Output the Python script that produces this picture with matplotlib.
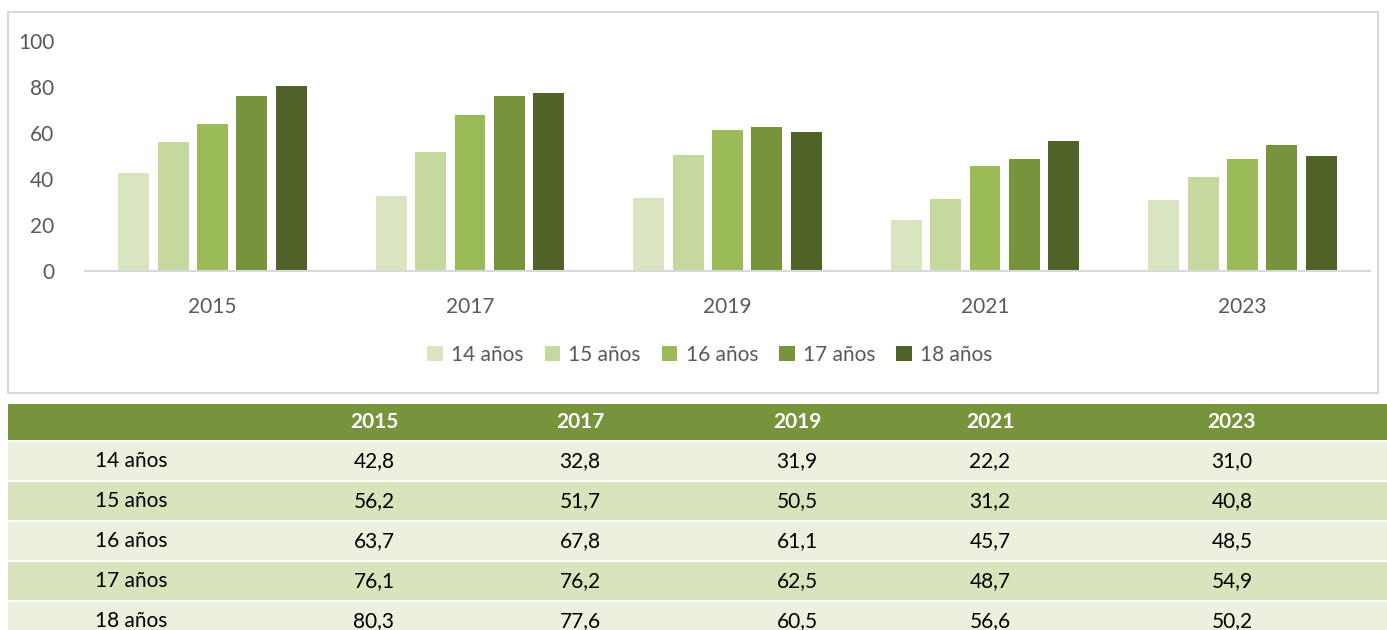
import numpy as np
import matplotlib.pyplot as plt
from matplotlib.patches import Rectangle

plt.rcParams['font.family'] = ['Lato', 'DejaVu Sans']

years = ['2015', '2017', '2019', '2021', '2023']
ages = ['14 años', '15 años', '16 años', '17 años', '18 años']
v14 = [42.8, 32.8, 31.9, 22.2, 31.0]
v15 = [56.2, 51.7, 50.5, 31.2, 40.8]
v16 = [63.7, 67.8, 61.1, 45.7, 48.5]
v17 = [76.1, 76.2, 62.5, 48.7, 54.9]
v18 = [80.3, 77.6, 60.5, 56.6, 50.2]
series = [v14, v15, v16, v17, v18]
colors = ['#D9E5C0', '#C5D89D', '#9BBB59', '#77933C', '#4F6228']

W, H = 1387, 630
fig = plt.figure(figsize=(W / 100, H / 100), dpi=100)

# background layer in pixel coords
bg = fig.add_axes([0, 0, 1, 1])
bg.set_xlim(0, W)
bg.set_ylim(H, 0)
bg.axis('off')
bg.add_patch(Rectangle((8, 12), 1370, 381, fill=False, ec='#D9D9D9', lw=1.5))

# chart
def fx(px):
    return px / W

def fy(py):
    return 1 - py / H

ax = fig.add_axes([fx(85), fy(271), fx(1370 - 85), (271 - 41) / H])
x = np.arange(len(years))
step = 0.153
width = 0.12
for i, (vals, c) in enumerate(zip(series, colors)):
    ax.bar(x + (i - 2) * step, vals, width, color=c, label=ages[i], zorder=2)
ax.set_xlim(-0.495, 4.495)
ax.set_ylim(0, 100)
ax.set_yticks(range(0, 101, 20))
ax.set_xticks(x)
ax.set_xticklabels(years)
for s in ['top', 'right', 'left']:
    ax.spines[s].set_visible(False)
ax.spines['bottom'].set_color('#D9D9D9')
ax.spines['bottom'].set_linewidth(1.5)
ax.tick_params(axis='both', length=0, labelsize=15, colors='#595959')
ax.tick_params(axis='x', pad=19)
ax.tick_params(axis='y', pad=22)

fig.legend(loc='center', bbox_to_anchor=(fx(710), fy(355)), ncol=5, frameon=False,
           fontsize=15, labelcolor='#595959', handlelength=0.75, handleheight=0.75,
           handletextpad=0.4, columnspacing=1.0)

# table
tx0, tx1 = 8, W
header_top, header_h, row_h = 404, 36, 40
bg.add_patch(Rectangle((tx0, header_top), tx1 - tx0, header_h, color='#77933C', lw=0))
col_x = [374, 580, 797, 990, 1232]
for j, yr in enumerate(years):
    bg.text(col_x[j], header_top + header_h / 2, yr, ha='center', va='center',
            color='white', fontsize=15, fontweight='bold')
row_colors = ['#EBF1DE', '#D7E4BC']
for i, age in enumerate(ages):
    top = header_top + header_h + 2 + i * row_h
    bg.add_patch(Rectangle((tx0, top), tx1 - tx0, row_h - 2, color=row_colors[i % 2], lw=0))
    cy = top + (row_h - 2) / 2
    bg.text(95, cy, age, ha='left', va='center', color='black', fontsize=15)
    for j in range(len(years)):
        bg.text(col_x[j], cy, f'{series[i][j]:.1f}'.replace('.', ','), ha='center',
                va='center', color='black', fontsize=15)

fig.savefig('out.png', dpi=100)
